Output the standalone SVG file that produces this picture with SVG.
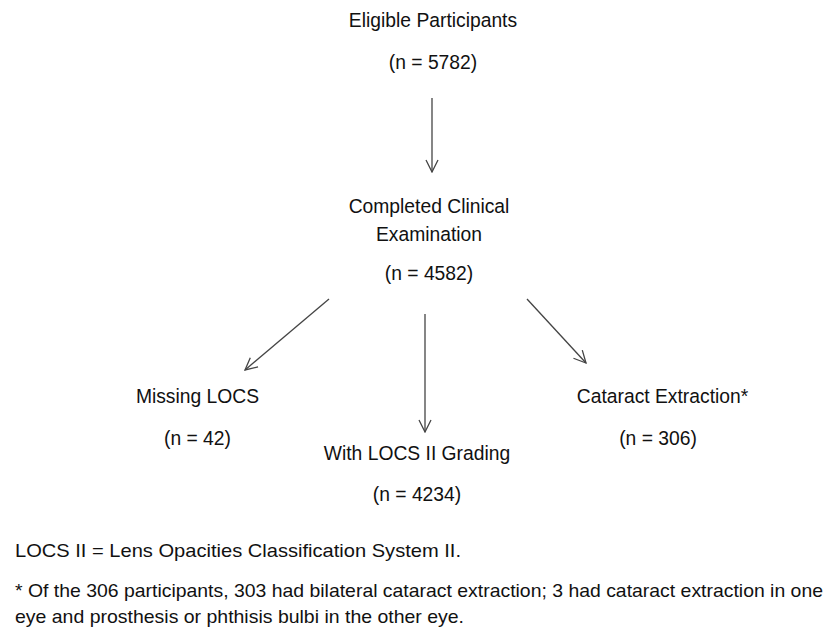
<svg xmlns="http://www.w3.org/2000/svg" width="828" height="631" viewBox="0 0 828 631">
<defs>
<style>
text{font-family:"Liberation Sans",Arial,sans-serif;fill:#111;}
.t{font-size:19.3px;text-anchor:middle;}
.f{font-size:19px;}
.c line{stroke:#444;stroke-width:1.3;fill:none;}
</style>
<marker id="ah" viewBox="0 0 14 14" refX="13" refY="7" markerWidth="14" markerHeight="14" markerUnits="userSpaceOnUse" orient="auto">
<path d="M1,1 L13,7 L1,13" fill="none" stroke="#444" stroke-width="1.3"/>
</marker>
</defs>
<rect width="828" height="631" fill="#fff"/>
<g id="eligible"><text class="t" x="433" y="27">Eligible Participants</text><text class="t" x="433" y="69">(n = 5782)</text></g>
<g id="completed"><text class="t" x="429" y="213">Completed Clinical</text><text class="t" x="429" y="241">Examination</text><text class="t" x="429" y="280">(n = 4582)</text></g>
<g id="missing"><text class="t" x="197.5" y="403">Missing LOCS</text><text class="t" x="197.5" y="445">(n = 42)</text></g>
<g id="with"><text class="t" x="417" y="460">With LOCS II Grading</text><text class="t" x="417" y="501">(n = 4234)</text></g>
<g id="cataract"><text class="t" x="662.5" y="403">Cataract Extraction*</text><text class="t" x="658" y="445">(n = 306)</text></g>
<g class="c" id="connectors">
<line x1="432" y1="98" x2="432" y2="172" marker-end="url(#ah)"/>
<line x1="329" y1="299" x2="245" y2="370" marker-end="url(#ah)"/>
<line x1="425" y1="314" x2="425" y2="432" marker-end="url(#ah)"/>
<line x1="527" y1="299" x2="586" y2="363" marker-end="url(#ah)"/>
</g>
<g id="notes">
<text class="f" x="15" y="557" textLength="446" lengthAdjust="spacingAndGlyphs">LOCS II = Lens Opacities Classification System II.</text>
<text class="f" x="15" y="597" textLength="808" lengthAdjust="spacingAndGlyphs">* Of the 306 participants, 303 had bilateral cataract extraction; 3 had cataract extraction in one</text>
<text class="f" x="15" y="623" textLength="449" lengthAdjust="spacingAndGlyphs">eye and prosthesis or phthisis bulbi in the other eye.</text>
</g>
</svg>
